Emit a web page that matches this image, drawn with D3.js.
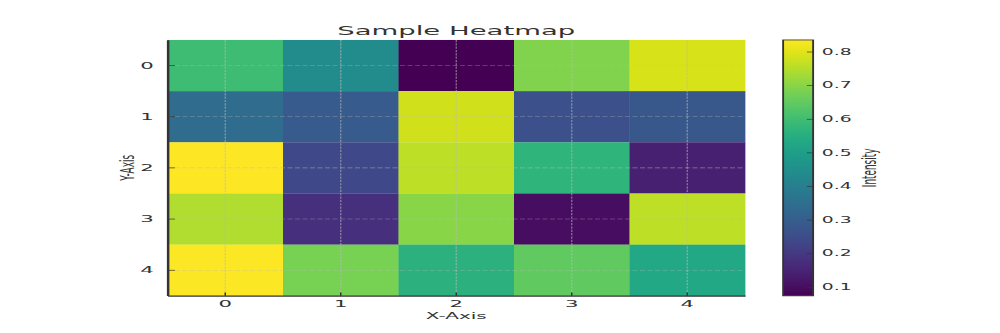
<!DOCTYPE html>
<html><head><meta charset="utf-8">
<script src="https://cdn.jsdelivr.net/npm/d3@7"></script>
<style>html,body{margin:0;padding:0;background:#fff;overflow:hidden}svg{display:block}</style>
</head><body>
<svg id="chart"></svg>
<script>
const xCategories = ["0","1","2","3","4"];
const yCategories = ["0","1","2","3","4"];
const row0 = [0.60, 0.44, 0.074, 0.69, 0.79];
const row1 = [0.34, 0.29, 0.78, 0.26, 0.28];
const row2 = [0.835, 0.24, 0.76, 0.57, 0.14];
const row3 = [0.745, 0.18, 0.70, 0.10, 0.76];
const row4 = [0.83, 0.68, 0.56, 0.65, 0.53];
const rows = [row0, row1, row2, row3, row4];
const colorTicks = [0.1,0.2,0.3,0.4,0.5,0.6,0.7,0.8];
const titleText = "Sample Heatmap";
const xLabel = "X-Axis", yLabel = "Y-Axis", cLabel = "Intensity";

const W = 800, H = 600;
const svg = d3.select("#chart").attr("width",1000).attr("height",333)
  .attr("viewBox",`0 0 ${W} ${H}`).attr("preserveAspectRatio","none");
const font = "DejaVu Sans, sans-serif";
const txt = "#333";
const m = {left:134, right:596, top:72, bottom:533};

const cells = [];
rows.forEach((r,i)=>r.forEach((v,j)=>cells.push({i,j,v})));
const all = cells.map(d=>d.v);
const ext = d3.extent(all);
const color = d3.scaleSequential(d3.interpolateViridis).domain(ext);

const x = d3.scaleBand().domain(xCategories).range([m.left,m.right]).padding(0);
const y = d3.scaleBand().domain(yCategories).range([m.top,m.bottom]).padding(0);

svg.append("g").selectAll("rect").data(cells).join("rect")
  .attr("x",d=>x(xCategories[d.j])).attr("y",d=>y(yCategories[d.i]))
  .attr("width",x.bandwidth()+0.3).attr("height",y.bandwidth()+0.3)
  .attr("fill",d=>color(d.v));

// grid
const grid = svg.append("g").attr("stroke","#bbb").attr("stroke-opacity",0.6).attr("stroke-width",1).attr("stroke-dasharray","4,2");
grid.selectAll(".gx").data(xCategories).join("line")
  .attr("x1",d=>x(d)+x.bandwidth()/2).attr("x2",d=>x(d)+x.bandwidth()/2)
  .attr("y1",m.top).attr("y2",m.bottom);
grid.selectAll(".gy").data(yCategories).join("line")
  .attr("y1",d=>y(d)+y.bandwidth()/2).attr("y2",d=>y(d)+y.bandwidth()/2)
  .attr("x1",m.left).attr("x2",m.right);

// axes
const xAxis = svg.append("g").attr("transform",`translate(0,${m.bottom})`)
  .call(d3.axisBottom(x).tickSizeInner(-6).tickSizeOuter(0).tickPadding(8));
const yAxis = svg.append("g").attr("transform",`translate(${m.left},0)`)
  .call(d3.axisLeft(y).tickSizeInner(-6).tickSizeOuter(0).tickPadding(11));
[xAxis,yAxis].forEach(a=>{
  a.select(".domain").attr("stroke","#333").attr("stroke-width",2);
  a.selectAll(".tick line").attr("stroke","#333").attr("stroke-width",1.2);
  a.selectAll("text").attr("font-family",font).attr("font-size",17).attr("fill",txt);
});

// title & labels
svg.append("text").attr("x",(m.left+m.right)/2).attr("y",63).attr("text-anchor","middle")
  .attr("font-family",font).attr("font-size",22).attr("fill",txt).text(titleText);
svg.append("text").attr("x",(m.left+m.right)/2).attr("y",574).attr("text-anchor","middle")
  .attr("font-family",font).attr("font-size",16).attr("fill",txt).text(xLabel);
svg.append("text").attr("transform",`translate(107,${(m.top+m.bottom)/2}) rotate(-90)`).attr("text-anchor","middle")
  .attr("font-family",font).attr("font-size",16).attr("fill",txt).text(yLabel);

// colorbar
const cb = {x0:626.5, x1:650.5, top:72, bottom:533};
const defs = svg.append("defs");
const grad = defs.append("linearGradient").attr("id","vir").attr("x1",0).attr("x2",0).attr("y1",1).attr("y2",0);
d3.range(0,1.0001,0.05).forEach(t=>grad.append("stop").attr("offset",t).attr("stop-color",d3.interpolateViridis(t)));
svg.append("rect").attr("x",cb.x0).attr("y",cb.top).attr("width",cb.x1-cb.x0).attr("height",cb.bottom-cb.top)
  .attr("fill","url(#vir)");
const cy = d3.scaleLinear().domain(ext).range([cb.bottom,cb.top]);
const cAxis = svg.append("g").attr("transform",`translate(${cb.x1},0)`)
  .call(d3.axisRight(cy).tickValues(colorTicks).tickFormat(d3.format(".1f")).tickSizeInner(-5).tickSizeOuter(0).tickPadding(7));
cAxis.select(".domain").remove();
cAxis.selectAll(".tick line").attr("stroke","#333").attr("stroke-width",1.2);
cAxis.selectAll("text").attr("font-family",font).attr("font-size",15).attr("fill",txt);
svg.append("rect").attr("x",cb.x0).attr("y",cb.top).attr("width",cb.x1-cb.x0).attr("height",cb.bottom-cb.top)
  .attr("fill","none").attr("stroke","#333").attr("stroke-width",1.5);
svg.append("text").attr("transform",`translate(701,${(cb.top+cb.bottom)/2}) rotate(-90)`).attr("text-anchor","middle")
  .attr("font-family",font).attr("font-size",16).attr("fill",txt).text(cLabel);
</script>
</body></html>
